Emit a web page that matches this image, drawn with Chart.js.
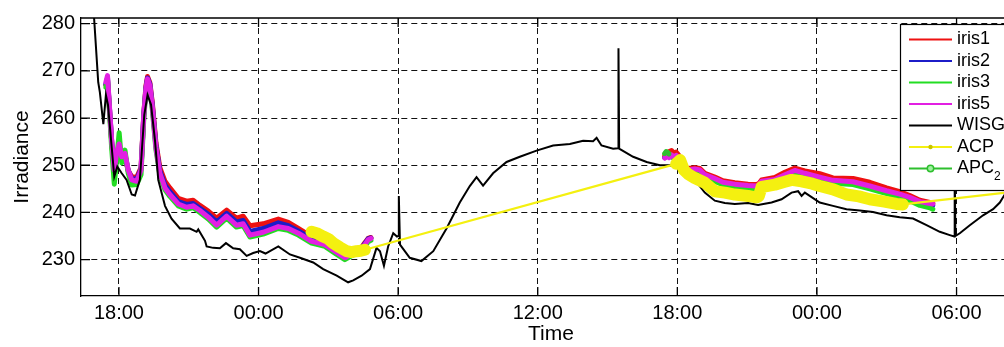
<!DOCTYPE html>
<html>
<head>
<meta charset="utf-8">
<title>Irradiance</title>
<style>
  html, body { margin: 0; padding: 0; background: #fff; overflow: hidden; }
  #wrap { position: relative; width: 1030px; height: 347px; }
</style>
</head>
<body>
<div id="wrap"><canvas id="irr"></canvas></div>
<script src="https://cdn.jsdelivr.net/npm/chart.js@4.4.1/dist/chart.umd.min.js"></script>
<script>
// hours counted from midnight of the first day
const hourTicks = [18, 24, 30, 36, 42, 48, 54];
const hourLabels = ["18:00", "00:00", "06:00", "12:00", "18:00", "00:00", "06:00"];
const irrTicks = [230, 240, 250, 260, 270, 280];

// iris instruments share one time base, null splits the two nights
const irisHours = [
  17.44, 17.51, 17.58, 17.69, 17.8, 17.9, 18.01, 18.12, 18.26, 18.4, 18.55, 18.76, 18.95, 19.07, 19.16,
  19.23, 19.33, 19.44, 19.59, 19.76, 19.98, 20.19, 20.55, 20.91, 21.19, 21.48, 21.84, 22.2, 22.63, 23.05,
  23.34, 23.63, 24.2, 24.85, 25.28, 25.71, 26.28, 26.85, 27.28, 27.71, 28.07, 28.43, 28.57, 28.71, 28.83,
  35,
  41.46, 41.55, 41.65, 41.75, 41.85, 41.95, 42.05, 42.12, 42.28, 42.45, 42.75, 42.97, 43.18, 43.61, 43.96,
  44.47, 45.04, 45.4, 45.5, 45.62, 46.19, 46.62, 47.05, 47.48, 48.12, 48.69, 49.55, 50.27, 50.99, 51.56,
  51.99, 52.42, 52.85, 52.98,
];
const iris1 = [
  267.0, 268.2, 263.0, 254.8, 248.6, 251.8, 253.6, 251.2, 252.0, 248.8, 247.6, 247.4, 249.5, 261.0, 266.8,
  268.8, 267.5, 263.0, 254.8, 249.5, 246.6, 245.2, 243.0, 242.4, 242.6, 241.5, 240.3, 238.8, 240.5, 238.8,
  239.2, 237.2, 237.6, 238.6, 237.9, 236.6, 234.9, 234.0, 232.6, 231.3, 232.0, 232.6, 233.6, 234.5, 234.7,
  null,
  252.0, 252.6, 252.9, 253.1, 252.6, 252.8, 252.2, 251.5, 249.9, 249.3, 249.5, 249.3, 248.3, 247.5, 246.7,
  246.3, 246.0, 245.9, 246.1, 246.9, 247.4, 248.5, 249.4, 248.8, 248.2, 247.3, 247.2, 246.4, 245.2, 244.4,
  243.6, 242.6, 242.1, 241.9,
];
const iris2 = [
  267.2, 268.5, 263.2, 255.0, 248.8, 252.0, 254.0, 251.5, 252.2, 248.9, 247.2, 247.0, 249.2, 260.8, 266.4,
  268.5, 267.2, 262.5, 254.2, 248.8, 245.8, 244.4, 242.3, 241.7, 241.9, 240.9, 239.6, 238.0, 239.8, 238.0,
  238.3, 236.0, 236.6, 237.8, 237.2, 236.1, 234.5, 233.7, 232.3, 231.0, 231.8, 232.4, 233.4, 234.4, 234.6,
  null,
  251.6, 252.2, 251.8, 252.0, 251.5, 251.6, 251.2, 250.6, 249.2, 248.7, 248.9, 248.7, 247.7, 246.9, 246.1,
  245.7, 245.4, 245.3, 245.5, 246.3, 246.7, 247.7, 248.6, 248.0, 247.2, 246.5, 246.2, 245.3, 244.3, 243.6,
  242.9, 242.0, 241.6, 241.5,
];
const iris3 = [
  266.5, 268.0, 262.5, 253.5, 246.0, 251.0, 256.9, 250.5, 253.2, 248.3, 245.8, 245.9, 248.0, 260.0, 265.8,
  267.8, 266.4, 261.6, 253.3, 247.9, 244.8, 243.4, 241.4, 240.7, 241.0, 240.0, 238.6, 236.9, 238.8, 236.9,
  237.2, 234.8, 235.4, 236.6, 236.2, 235.2, 233.5, 232.8, 231.4, 230.0, 231.0, 231.7, 232.8, 233.8, 234.1,
  null,
  252.4, 252.8, 252.4, 251.8, 251.5, 251.6, 251.0, 250.4, 248.9, 248.4, 248.6, 248.4, 247.4, 246.6, 245.8,
  245.4, 245.1, 245.0, 245.2, 246.0, 246.4, 247.4, 248.3, 247.7, 246.9, 246.2, 245.9, 245.0, 244.0, 243.2,
  242.5, 241.5, 241.0, 240.7,
];
const iris5 = [
  267.6, 269.0, 263.5, 255.2, 249.0, 252.5, 254.5, 251.8, 252.5, 249.0, 246.9, 246.6, 249.0, 260.7, 266.2,
  268.3, 266.9, 262.1, 253.8, 248.3, 245.2, 243.8, 241.8, 241.1, 241.4, 240.4, 239.0, 237.3, 239.2, 237.3,
  237.6, 235.2, 235.8, 237.0, 236.6, 235.6, 233.9, 233.2, 231.8, 230.4, 231.4, 232.1, 233.2, 234.2, 234.5,
  null,
  251.5, 252.0, 251.6, 252.2, 251.8, 252.1, 251.6, 251.0, 249.5, 249.0, 249.2, 249.0, 248.0, 247.2, 246.4,
  246.0, 245.7, 245.6, 245.8, 246.6, 247.0, 248.0, 248.9, 248.3, 247.5, 246.8, 246.5, 245.6, 244.6, 243.9,
  243.2, 242.3, 241.9, 241.8,
];

const wisgHours = [
  16.6, 16.93, 17.11, 17.18, 17.33, 17.44, 17.53, 17.69, 17.8, 17.93, 18.12, 18.33, 18.55, 18.69, 18.9,
  19.09, 19.23, 19.38, 19.55, 19.69, 19.98, 20.26, 20.62, 21.05, 21.34, 21.41, 21.7, 21.77, 22.05, 22.34,
  22.6, 22.91, 23.2, 23.49, 23.77, 24.06, 24.3, 24.85, 25.35, 25.78, 26.35, 26.78, 27.36, 27.85, 28.07,
  28.43, 28.79, 29.07, 29.22, 29.39, 29.57, 29.79, 29.95, 30.0, 30.03, 30.08, 30.5, 31.0, 31.51, 32.08,
  32.65, 33.08, 33.37, 33.65, 34.08, 34.66, 35.23, 35.95, 36.66, 37.38, 37.95, 38.38, 38.53, 38.74, 39.24,
  39.45, 39.47, 39.5, 40.1, 40.68, 41.25, 41.68, 42.04, 42.32, 42.75, 43.18, 43.61, 44.04, 44.47, 45.04,
  45.47, 46.05, 46.48, 46.91, 47.19, 47.34, 47.48, 48.12, 48.69, 49.27, 49.84, 50.41, 50.99, 51.56, 52.13,
  52.71, 53.28, 53.71, 53.9, 53.92, 53.95, 54.14, 54.57, 55.14, 55.57, 55.86, 56.07, 56.77,
];
const wisg = [
  286.0, 281.4, 267.6, 265.5, 258.7, 264.9, 262.8, 253.8, 247.6, 249.7, 248.3, 246.9, 243.8, 243.6, 246.9,
  260.7, 264.9, 262.8, 255.2, 246.9, 241.4, 238.7, 236.6, 236.6, 235.9, 236.4, 234.0, 232.8, 232.5, 232.4,
  233.5, 232.4, 232.2, 230.8, 231.4, 231.8, 231.3, 232.8, 231.1, 230.4, 229.4, 228.0, 226.6, 225.2, 225.6,
  226.6, 228.0, 232.5, 231.8, 228.7, 232.8, 235.6, 234.9, 235.0, 243.5, 233.2, 230.4, 229.7, 231.8, 236.6,
  242.1, 245.6, 247.5, 245.7, 248.3, 250.7, 251.8, 253.1, 254.2, 254.5, 255.2, 255.1, 255.8, 254.2, 253.5,
  253.6, 274.8, 253.5, 251.8, 250.7, 250.0, 250.0, 249.4, 249.0, 246.9, 244.2, 242.5, 242.0, 241.8, 242.0,
  241.6, 242.1, 242.8, 244.2, 244.5, 243.5, 244.2, 242.1, 241.4, 240.7, 240.4, 240.1, 239.4, 239.0, 238.7,
  237.3, 235.9, 235.2, 234.9, 250.0, 235.0, 235.6, 237.3, 239.4, 240.7, 242.1, 243.8, 247.0,
];

const acpHours = [
  26.28, 26.5, 26.78, 27.0, 27.21, 27.5, 27.78, 28.0, 28.21, 28.4, 28.57,
  41.95, 42.12, 42.28, 42.45, 42.75, 43.18, 43.61, 44.04, 44.47, 45.04, 45.4, 45.5, 45.62, 46.19,
  46.62, 46.91, 47.34, 47.8, 48.12, 48.69, 49.27, 49.8, 50.27, 50.9, 51.42, 51.69, 57.0,
];
const acp = [
  235.9, 235.6, 234.9, 234.4, 233.5, 232.6, 231.8, 231.6, 231.8, 231.9, 232.1,
  250.3, 251.1, 249.0, 248.2, 247.3, 246.3, 244.5, 244.2, 243.8, 243.5, 243.2, 243.4, 245.4, 245.9,
  246.5, 246.9, 246.6, 246.1, 245.6, 244.9, 243.8, 243.4, 242.8, 242.3, 241.8, 241.7, 244.7,
];

const apc2Hours = [41.46, 41.52, 41.58, 41.64];
const apc2 = [252.5, 252.9, 252.7, 252.4];

const FONT = "'Liberation Sans', Arial, Helvetica, sans-serif";
const pts = (hours, vals) => hours.map((h, i) => ({ x: h, y: vals[i] }));

const band = (label, color, hours, vals, width, order) => ({
  label,
  data: pts(hours, vals),
  borderColor: color,
  backgroundColor: color,
  borderWidth: width,
  pointRadius: 0,
  borderJoinStyle: "round",
  borderCapStyle: "round",
  spanGaps: false,
  order,
});

const datasets = [
  band("iris1", "#ee1111", irisHours, iris1, 5, 7),
  band("iris2", "#1c1cc8", irisHours, iris2, 5, 6),
  band("iris3", "#22dd22", irisHours, iris3, 5, 5),
  band("iris5", "#e21fe2", irisHours, iris5, 5, 4),
  { ...band("WISG", "#000000", wisgHours, wisg, 2, 3), borderJoinStyle: "miter", clip: 0 },
  {
    ...band("ACP", "#f4f010", acpHours, acp, 2, 2),
    // dense stretches read as a thick band, long gaps are a plain joining line
    segment: { borderWidth: (ctx) => (ctx.p1.parsed.x - ctx.p0.parsed.x > 2 ? 2.2 : 12) },
    marker: "dot",
  },
  { ...band("APC", "#2ebf2e", apc2Hours, apc2, 5, 1), marker: "circle", sub: "2" },
];

const frameAndLegend = {
  id: "frameAndLegend",
  afterDatasetsDraw(chart) {
    const { ctx, chartArea: a, scales } = chart;
    ctx.save();
    ctx.strokeStyle = "#000";
    ctx.lineWidth = 1.3;
    ctx.beginPath();
    ctx.moveTo(a.left, a.top);
    ctx.lineTo(a.right, a.top);
    ctx.lineTo(a.right, a.bottom);
    // MATLAB style ticks pointing into the box
    scales.x.ticks.forEach((t) => {
      const px = scales.x.getPixelForValue(t.value);
      ctx.moveTo(px, a.bottom);
      ctx.lineTo(px, a.bottom - 9);
      ctx.moveTo(px, a.top);
      ctx.lineTo(px, a.top + 9);
    });
    scales.y.ticks.forEach((t) => {
      const py = scales.y.getPixelForValue(t.value);
      ctx.moveTo(a.left, py);
      ctx.lineTo(a.left + 9, py);
      ctx.moveTo(a.right, py);
      ctx.lineTo(a.right - 9, py);
    });
    ctx.stroke();
    ctx.restore();
  },
  afterDraw(chart) {
    const { ctx, chartArea: a } = chart;
    const w = 115;
    const h = 166;
    const x0 = a.right - 6 - w;
    const y0 = a.top + 6;
    ctx.save();
    ctx.fillStyle = "#fff";
    ctx.fillRect(x0, y0, w, h);
    ctx.strokeStyle = "#000";
    ctx.lineWidth = 1.2;
    ctx.strokeRect(x0 + 0.5, y0 + 0.5, w, h);
    ctx.textBaseline = "middle";
    chart.data.datasets.forEach((ds, i) => {
      const y = y0 + 15.5 + i * 21.5;
      ctx.strokeStyle = ds.borderColor;
      ctx.lineWidth = 2;
      ctx.beginPath();
      ctx.moveTo(x0 + 9, y);
      ctx.lineTo(x0 + 52, y);
      ctx.stroke();
      if (ds.marker === "dot") {
        ctx.fillStyle = "#c8c400";
        ctx.beginPath();
        ctx.arc(x0 + 30.5, y, 2.2, 0, Math.PI * 2);
        ctx.fill();
      } else if (ds.marker === "circle") {
        ctx.fillStyle = "#9ef09e";
        ctx.lineWidth = 1.5;
        ctx.beginPath();
        ctx.arc(x0 + 30.5, y, 3.2, 0, Math.PI * 2);
        ctx.fill();
        ctx.stroke();
      }
      ctx.fillStyle = "#000";
      ctx.font = `18px ${FONT}`;
      ctx.fillText(ds.label, x0 + 57, y);
      if (ds.sub) {
        const tw = ctx.measureText(ds.label).width;
        ctx.font = `12px ${FONT}`;
        ctx.fillText(ds.sub, x0 + 57 + tw, y + 8);
      }
    });
    ctx.restore();
  },
};

new Chart(document.getElementById("irr"), {
  type: "line",
  data: { datasets },
  options: {
    responsive: true,
    maintainAspectRatio: false,
    animation: false,
    layout: { padding: { top: 11, right: 9, left: 0, bottom: 0 } },
    plugins: { legend: { display: false }, tooltip: { enabled: false } },
    scales: {
      x: {
        type: "linear",
        min: 16.37,
        max: 56.77,
        afterBuildTicks: (scale) => {
          scale.ticks = hourTicks.map((v) => ({ value: v }));
        },
        afterFit: (scale) => {
          scale.height = 51;
        },
        grid: { color: "#111", lineWidth: 1, drawTicks: false },
        border: { display: true, color: "#000", width: 1.3, dash: [6, 4] },
        ticks: {
          autoSkip: false,
          maxRotation: 0,
          padding: 5,
          color: "#000",
          font: { family: FONT, size: 20 },
          callback: (v, i) => hourLabels[i],
        },
        title: {
          display: true,
          text: "Time",
          color: "#000",
          font: { family: FONT, size: 21 },
          padding: { top: 0, bottom: 0 },
        },
      },
      y: {
        min: 222.3,
        max: 281.2,
        afterBuildTicks: (scale) => {
          scale.ticks = irrTicks.map((v) => ({ value: v }));
        },
        afterFit: (scale) => {
          scale.width = 81;
        },
        grid: { color: "#111", lineWidth: 1, drawTicks: false },
        border: { display: true, color: "#000", width: 1.3, dash: [6, 4] },
        ticks: {
          autoSkip: false,
          padding: 6,
          color: "#000",
          font: { family: FONT, size: 20 },
          callback: (v) => String(v),
        },
        title: {
          display: true,
          text: "Irradiance",
          color: "#000",
          font: { family: FONT, size: 21 },
          padding: { top: 10, bottom: 0 },
        },
      },
    },
  },
  plugins: [frameAndLegend],
});
</script>
</body>
</html>
